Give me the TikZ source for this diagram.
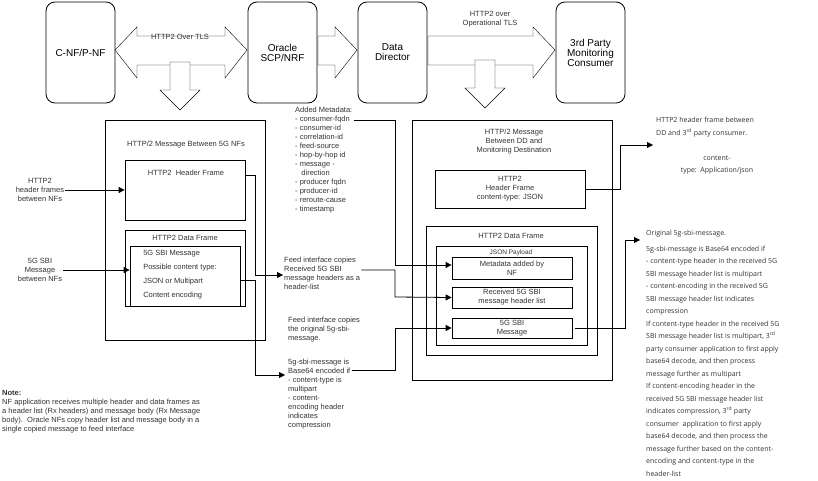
\documentclass[tikz,border=0pt]{standalone}
\usepackage{fontspec}
\setmainfont{Liberation Sans}
\newfontfamily\opsans{Open Sans}
\usetikzlibrary{arrows.meta}
\begin{document}
\begin{tikzpicture}
  [x=1pt,y=-1pt,every node/.style={font=\fontsize{7.5}{9}\selectfont,text=black!80,inner sep=1pt}]
  \tikzstyle{ent} = [draw,thick,rounded corners=9pt,minimum width=69pt,minimum height=101pt,font=\fontsize{10}{10}\selectfont,align=center,text=black]
  \tikzstyle{frame} = [draw,thick]
  \tikzstyle{wire} = [thick,-{Triangle[length=6pt,width=6pt]}]
  \tikzstyle{blk} = [draw,fill=white]
  \tikzstyle{note} = [align=left,font=\opsans\fontsize{7}{12.5}\selectfont]
  \useasboundingbox (0,0) rectangle (818,481);
  % top row
  \node[ent] (cnf) at (80.5,52.5) {C-NF/P-NF};
  \node[ent] (scp) at (282.5,52.5) {Oracle\\SCP/NRF};
  \node[ent] (dd)  at (392.5,52.5) {Data\\Director};
  \node[ent] (tp)  at (590.5,52.5) {3rd Party\\Monitoring\\Consumer};
  \draw[blk] (115,50) -- (137,27) -- (137,36) -- (225,36) -- (225,27) -- (247,50)
    -- (225,78) -- (225,65) -- (137,65) -- (137,78) -- cycle;
  \draw[blk] (318,36) -- (335,36) -- (335,27) -- (357,50) -- (335,78) -- (335,65) -- (318,65) -- cycle;
  \draw[blk] (428,36) -- (533,36) -- (533,27) -- (555,50) -- (533,78) -- (533,65) -- (428,65) -- cycle;
  \draw[blk] (170,62) -- (190,62) -- (190,90) -- (200,90) -- (180,110) -- (160,90) -- (170,90) -- cycle;
  \draw[blk] (475,60) -- (495,60) -- (495,88) -- (505,88) -- (485,108) -- (465,88) -- (475,88) -- cycle;
  \node (tls) at (180,37) {HTTP2 Over TLS};
  \node[align=center] (otls) at (490,19) {HTTP2 over\\Operational TLS};
  % left message
  \node[frame,minimum width=160pt,minimum height=220pt] (lmsg) at (185,230) {};
  \node (ltit) at (186,145) {HTTP/2 Message Between 5G NFs};
  \node[frame,minimum width=120pt,minimum height=60pt] (lhdr) at (185,190) {};
  \node (lhdrt) at (186,173) {HTTP2\ \ Header Frame};
  \node[frame,minimum width=120pt,minimum height=76pt] (ldat) at (185,268) {};
  \node (ldatt) at (185,238) {HTTP2 Data Frame};
  \node[frame,minimum width=110pt,minimum height=60pt] (lsbi) at (185,276) {};
  \node[align=left,font=\fontsize{7.5}{14}\selectfont] (lsbit) at (180,275) {5G SBI Message\\Possible content type:\\JSON or Multipart\\Content encoding};
  \node[align=center] (inhdr) at (40,190) {HTTP2\\header frames\\between NFs};
  \node[align=center] (insbi) at (40,270) {5G SBI\\Message\\between NFs};
  \draw[wire] (inhdr.east) -- (lhdr.west |- inhdr.east);
  \draw[wire] (insbi.east) -- (lsbi.west |- insbi.east);
  % feed texts
  \node[align=left,anchor=north west] (meta) at (294,106) {Added Metadata:\\- consumer-fqdn\\- consumer-id\\- correlation-id\\- feed-source\\- hop-by-hop id\\- message -\\\ \ \ direction\\- producer fqdn\\- producer-id\\- reroute-cause\\- timestamp};
  \node[align=left,anchor=north west] (fhdr) at (283,256) {Feed interface copies\\Received 5G SBI\\message headers as a\\header-list};
  \node[align=left,anchor=north west] (fsbi) at (287,316) {Feed interface copies\\the original 5g-sbi-\\message.};
  \node[align=left,anchor=north west] (fenc) at (287,358) {5g-sbi-message is\\Base64 encoded if\\- content-type is\\multipart\\- content-\\encoding header\\indicates\\compression};
  \coordinate (fhdrin) at (283,275);
  \coordinate (fencin) at (285,375);
  \draw[wire] (lhdr.east |- 0,175) -| (255,275) -- (fhdrin);
  \draw[wire] (lsbi.east |- 0,280) -| (255,375) -- (fencin);
  % right message
  \node[frame,minimum width=200pt,minimum height=260pt] (rmsg) at (512,250) {};
  \node[align=center] (rtit) at (514,142) {HTTP/2 Message\\Between DD and\\Monitoring Destination};
  \node[frame,minimum width=150pt,minimum height=38pt,align=center] (rhdr) at (510,189) {HTTP2\\Header Frame\\content-type: JSON};
  \node[frame,minimum width=171pt,minimum height=129pt] (rdat) at (511.5,290.5) {};
  \node (rdatt) at (511,236) {HTTP2 Data Frame};
  \node[frame,minimum width=151pt,minimum height=99pt] (rjson) at (511.5,295.5) {};
  \node[font=\fontsize{6.5}{7}\selectfont] (rjsont) at (511,253) {JSON Payload};
  \node[frame,minimum width=120pt,minimum height=22pt,align=center] (rmeta) at (512,268.5) {Metadata added by\\NF};
  \node[frame,minimum width=120pt,minimum height=21pt,align=center] (rrcv) at (512,297.5) {Received 5G SBI\\message header list};
  \node[frame,minimum width=120pt,minimum height=20pt,align=center] (rsbi) at (512,328) {5G SBI\\Message};
  \draw[wire] (meta.north east |- 0,120) -| (395,265) -- (rmeta.west |- 0,265);
  \draw[wire] (fhdr.north east |- 0,270) -| (395,297) -- (rrcv.west);
  \draw[wire] (fenc.north east |- 0,370) -| (395,328) -- (rsbi.west);
  % right notes
  \node[note,anchor=north west] (dhdr) at (655,116) {HTTP2 header frame between\\DD and 3\textsuperscript{rd} party consumer.};
  \node[note,align=center] (dct) at (717,165) {content-\\type:\ \ Application/json};
  \node[note,anchor=north west] (dsbi) at (645,229) {Original 5g-sbi-message.\\[3pt]5g-sbi-message is Base64 encoded if\\- content-type header in the received 5G\\SBI message header list is multipart\\- content-encoding in the received 5G\\SBI message header list indicates\\compression\\If content-type header in the received 5G\\SBI message header list is multipart, 3\textsuperscript{rd}\\party consumer application to first apply\\base64 decode, and then process\\message further as multipart\\If content-encoding header in the\\received 5G SBI message header list\\indicates compression, 3\textsuperscript{rd} party\\consumer\ \ application to first apply\\base64 decode, and then process the\\message further based on the content-\\encoding and content-type in the\\header-list};
  \coordinate (dhdrin) at (653,145);
  \coordinate (dsbiin) at (640,240);
  \draw[wire] (rhdr.east) -| (620,145) -- (dhdrin);
  \draw[wire] (575,328) -| (625,240) -- (dsbiin);
  % note
  \node[align=left,anchor=north west] (note) at (1,389) {\textbf{Note:}\\NF application receives multiple header and data frames as\\a header list (Rx headers) and message body (Rx Message\\body).\ \ Oracle NFs copy header list and message body in a\\single copied message to feed interface};
\end{tikzpicture}
\end{document}
